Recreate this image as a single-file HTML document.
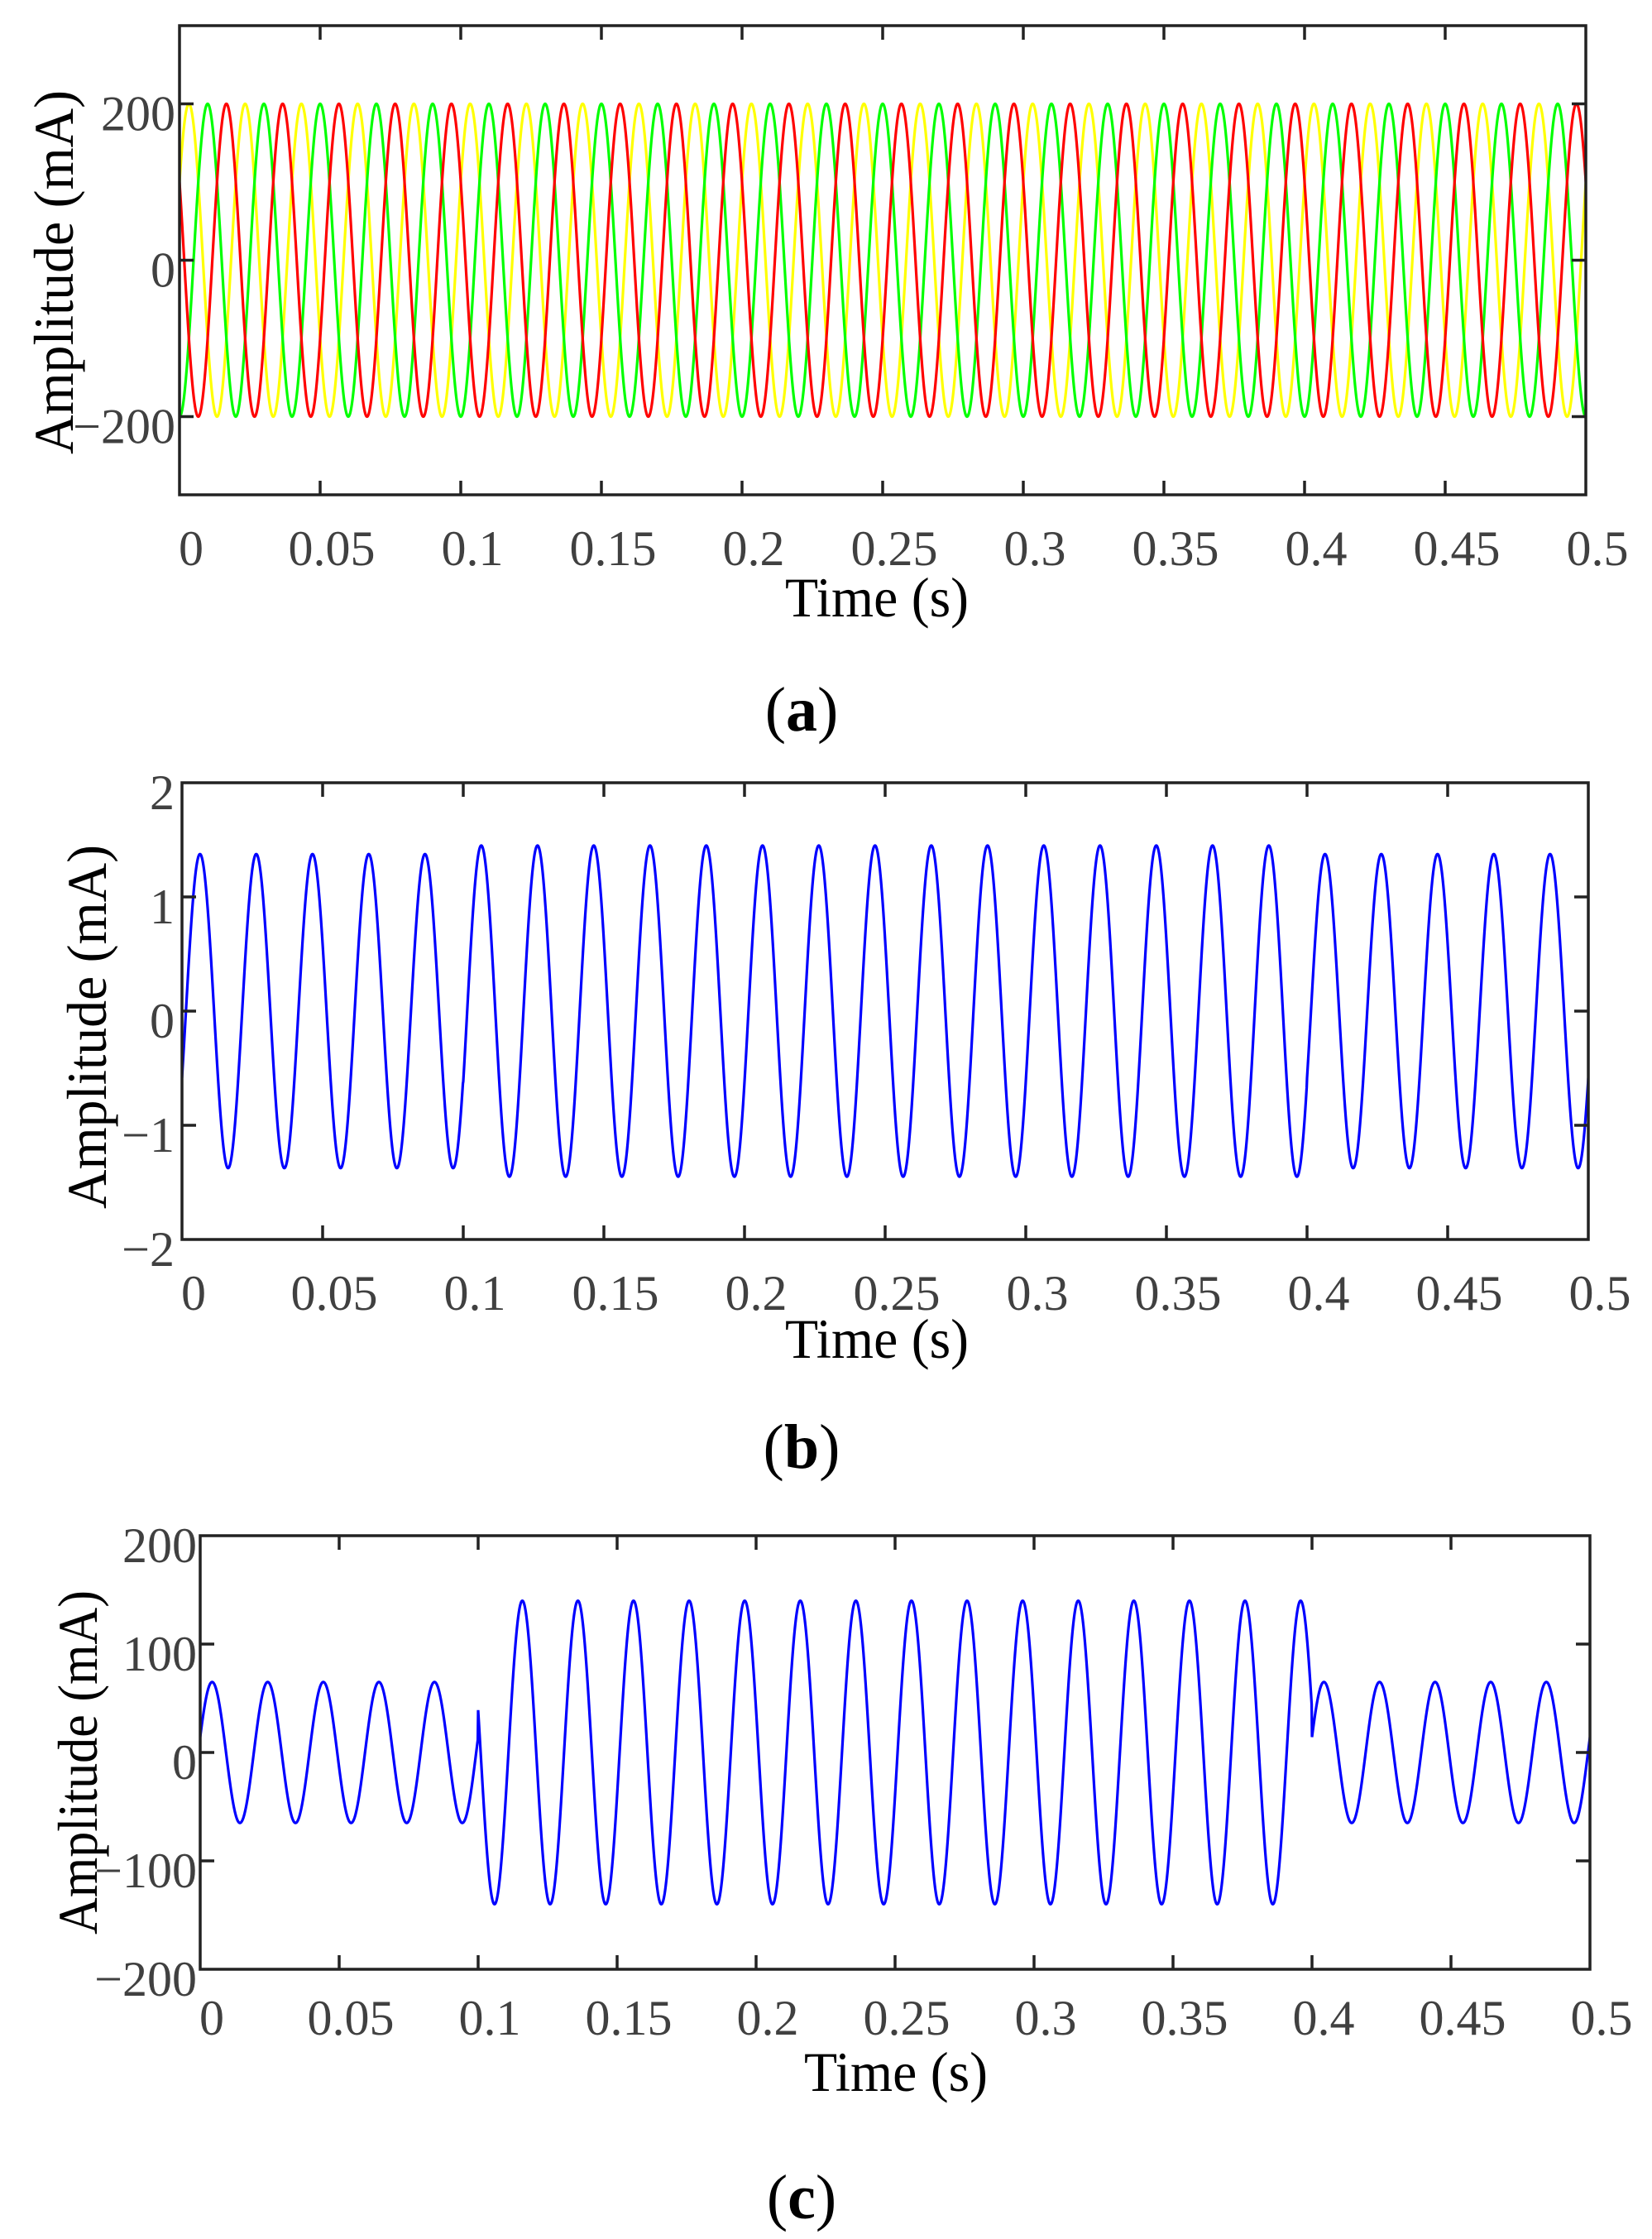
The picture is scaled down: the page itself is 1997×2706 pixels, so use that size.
<!DOCTYPE html>
<html><head><meta charset="utf-8"><style>
html,body{margin:0;padding:0;background:#fff;}
svg{display:block;}
text{font-family:"Liberation Serif",serif;}
.tk{font-size:60px;fill:#404040;}
.al{font-size:68px;fill:#000;}
.ttl{font-size:76px;fill:#000;}
</style></head><body>
<svg id="s" width="1997" height="2706" viewBox="0 0 1997 2706" xmlns="http://www.w3.org/2000/svg">
<defs>
<clipPath id="ca"><rect x="217" y="31" width="1700" height="567"/></clipPath>
<clipPath id="cb"><rect x="220" y="946" width="1700" height="552"/></clipPath>
<clipPath id="cc"><rect x="242" y="1856" width="1680" height="524"/></clipPath>
</defs>
<g id="g"></g>
</svg>
<script>
const NS="http://www.w3.org/2000/svg";
const g=document.getElementById('g');
function el(t,a,txt){const e=document.createElementNS(NS,t);for(const k in a)e.setAttribute(k,a[k]);if(txt!==undefined)e.textContent=txt;g.appendChild(e);return e;}
const W=2*Math.PI*50;
function series(L,R,T,B,ymin,ymax,f,color,clip){
  let p=[];const N=4000;
  for(let i=0;i<=N;i++){const t=0.5*i/N;const x=L+(R-L)*t/0.5;const y=B-(f(t)-ymin)/(ymax-ymin)*(B-T);p.push(x.toFixed(2)+","+y.toFixed(2));}
  el('polyline',{points:p.join(' '),fill:'none',stroke:color,'stroke-width':3.2,'clip-path':'url(#'+clip+')'});
}
function axes(L,R,T,B,ymin,ymax,yt,ylabs,yRight,xLabBase,timeX,timeBase,ylx,yly,ylen,title,titleBase){
  el('rect',{x:L,y:T,width:R-L,height:B-T,fill:'none',stroke:'#222','stroke-width':3.5});
  for(let i=0;i<=10;i++){const x=L+(R-L)*i/10;
    if(i>0&&i<10){el('line',{x1:x,y1:B,x2:x,y2:B-17,stroke:'#222','stroke-width':3.5});el('line',{x1:x,y1:T,x2:x,y2:T+17,stroke:'#222','stroke-width':3.5});}
    const lab=i==0?"0":i==10?"0.5":(i*0.05).toFixed(2).replace(/0$/,'');
    el('text',{x:x+14,y:xLabBase,'text-anchor':'middle',class:'tk'},lab);
  }
  yt.forEach((v,i)=>{const y=B-(v-ymin)/(ymax-ymin)*(B-T);
    if(v>ymin&&v<ymax){el('line',{x1:L,y1:y,x2:L+17,y2:y,stroke:'#222','stroke-width':3.5});el('line',{x1:R,y1:y,x2:R-17,y2:y,stroke:'#222','stroke-width':3.5});}
    el('text',{x:yRight,y:y+32,'text-anchor':'end',class:'tk'},ylabs[i]);
  });
  el('text',{x:timeX,y:timeBase,'text-anchor':'middle',class:'al',textLength:222,lengthAdjust:'spacingAndGlyphs'},"Time (s)");
  el('text',{x:ylx,y:yly,'text-anchor':'middle',class:'al',textLength:ylen,lengthAdjust:'spacingAndGlyphs',transform:'rotate(-90 '+ylx+' '+yly+')'},"Amplitude (mA)");
  const t=el('text',{x:969,y:titleBase,'text-anchor':'middle',class:'ttl'});
  t.innerHTML='(<tspan font-weight="bold">'+title+'</tspan>)';
}
// Panel a
series(217,1917,31,598,-300,300,t=>200*Math.sin(W*t+Math.PI/6),'#ffff00','ca');
series(217,1917,31,598,-300,300,t=>200*Math.sin(W*t-Math.PI/2),'#00ff00','ca');
series(217,1917,31,598,-300,300,t=>200*Math.sin(W*t+5*Math.PI/6),'#ff0000','ca');
axes(217,1917,31,598,-300,300,[200,0,-200],["200","0","\u2212200"],212,683,1060,745,88,329,440,"a",883);
// Panel b
series(220,1920,946,1498,-2,2,t=>{const A=(t<0.1||t>=0.4)?1.375:1.45;return A*Math.cos(W*(t-0.0064));},'#0000ff','cb');
axes(220,1920,946,1498,-2,2,[2,1,0,-1,-2],["2","1","0","\u22121","\u22122"],211,1583,1060,1641,128,1241,440,"b",1774);
// Panel c
series(242,1922,1856,2380,-200,200,t=>{if(t<0.1||t>=0.4)return 65*Math.sin(W*t+0.22);return 140*Math.cos(W*(t-0.3959));},'#0000ff','cc');
axes(242,1922,1856,2380,-200,200,[200,100,0,-100,-200],["200","100","0","\u2212100","\u2212200"],238,2459,1083,2527,117,2130,416,"c",2681);
</script>
</body></html>
